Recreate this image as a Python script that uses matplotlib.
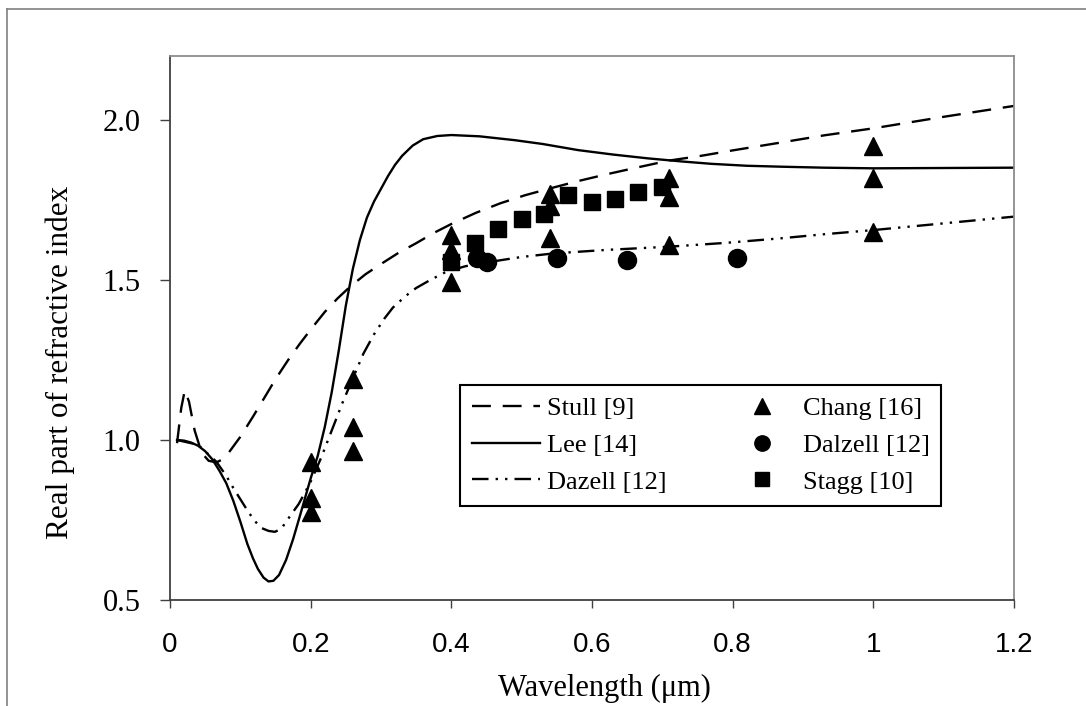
import numpy as np
import matplotlib
matplotlib.use('Agg')
import matplotlib.pyplot as plt
from matplotlib.lines import Line2D
from matplotlib.ticker import FormatStrFormatter

# Stull [9] - dashed curve
stull_x = [0.010, 0.016, 0.021, 0.027, 0.035, 0.045, 0.055, 0.066, 0.075, 0.085,
           0.100, 0.118, 0.135, 0.150, 0.168, 0.185, 0.200, 0.220, 0.238, 0.256,
           0.278, 0.300, 0.325, 0.350, 0.375, 0.400, 0.435, 0.470, 0.505, 0.540,
           0.580, 0.620, 0.665, 0.709, 0.755, 0.800, 0.867, 0.930, 1.000, 1.050,
           1.100, 1.150, 1.200]
stull_y = [0.990, 1.100, 1.155, 1.120, 1.030, 0.960, 0.935, 0.930, 0.940, 0.965,
           1.010, 1.073, 1.135, 1.190, 1.250, 1.302, 1.345, 1.400, 1.442, 1.479,
           1.518, 1.550, 1.585, 1.615, 1.647, 1.675, 1.710, 1.740, 1.765, 1.786,
           1.809, 1.830, 1.852, 1.873, 1.888, 1.905, 1.929, 1.952, 1.974, 1.992,
           2.010, 2.027, 2.044]

# Lee [14] - solid curve
lee_x = [0.010, 0.020, 0.030, 0.040, 0.050, 0.060, 0.070, 0.080, 0.090, 0.100,
         0.110, 0.118, 0.125, 0.133, 0.140, 0.147, 0.155, 0.165, 0.175, 0.185,
         0.200, 0.210, 0.220, 0.230, 0.240, 0.250, 0.260, 0.270, 0.280, 0.290,
         0.300, 0.310, 0.320, 0.330, 0.345, 0.360, 0.380, 0.400, 0.440, 0.490,
         0.530, 0.580, 0.630, 0.680, 0.730, 0.770, 0.820, 0.870, 0.930, 1.000,
         1.100, 1.200]
lee_y = [1.000, 0.998, 0.992, 0.982, 0.965, 0.940, 0.905, 0.865, 0.810, 0.745,
         0.675, 0.630, 0.597, 0.570, 0.558, 0.560, 0.578, 0.625, 0.690, 0.765,
         0.880, 0.950, 1.040, 1.150, 1.280, 1.420, 1.535, 1.625, 1.695, 1.745,
         1.785, 1.825, 1.860, 1.888, 1.920, 1.940, 1.950, 1.953, 1.949, 1.937,
         1.925, 1.906, 1.892, 1.880, 1.870, 1.863, 1.857, 1.854, 1.851, 1.849,
         1.850, 1.851]

# Dazell [12] - dash-dot-dot curve
dazell_x = [0.010, 0.040, 0.066, 0.080, 0.090, 0.100, 0.110, 0.120, 0.130, 0.140,
            0.149, 0.158, 0.170, 0.183, 0.199, 0.215, 0.230, 0.245, 0.261, 0.275,
            0.290, 0.305, 0.317, 0.335, 0.350, 0.370, 0.393, 0.420, 0.450, 0.500,
            0.545, 0.620, 0.709, 0.790, 0.867, 0.930, 1.000, 1.100, 1.200]
dazell_y = [1.000, 0.985, 0.932, 0.888, 0.850, 0.815, 0.780, 0.748, 0.725, 0.716,
            0.713, 0.722, 0.760, 0.800, 0.865, 0.945, 1.030, 1.115, 1.198, 1.270,
            1.330, 1.380, 1.414, 1.450, 1.475, 1.500, 1.526, 1.543, 1.555, 1.572,
            1.583, 1.594, 1.604, 1.616, 1.630, 1.643, 1.656, 1.677, 1.698]

# Chang [16] - triangles
chang_x = [0.20, 0.20, 0.20, 0.26, 0.26, 0.26, 0.40, 0.40, 0.40,
           0.54, 0.54, 0.54, 0.71, 0.71, 0.71, 1.00, 1.00, 1.00]
chang_y = [0.930, 0.820, 0.775, 1.190, 1.040, 0.965, 1.640, 1.595, 1.495,
           1.770, 1.730, 1.630, 1.820, 1.760, 1.610, 1.920, 1.820, 1.650]

# Dalzell [12] - circles
dalzell_x = [0.436, 0.450, 0.550, 0.650, 0.806]
dalzell_y = [1.568, 1.557, 1.568, 1.563, 1.570]

# Stagg [10] - squares
stagg_x = [0.400, 0.433, 0.467, 0.500, 0.532, 0.566, 0.600, 0.633, 0.666, 0.699]
stagg_y = [1.557, 1.617, 1.660, 1.690, 1.706, 1.766, 1.745, 1.752, 1.774, 1.790]

xticks = [0, 0.2, 0.4, 0.6, 0.8, 1.0, 1.2]
xtick_labels = ['0', '0.2', '0.4', '0.6', '0.8', '1', '1.2']
yticks = [0.5, 1.0, 1.5, 2.0]

serif = 'Liberation Serif'
sans = 'Liberation Sans'

W, H = 1086, 706
fig = plt.figure(figsize=(W / 100, H / 100), dpi=100)
ax = fig.add_axes([170 / W, 1 - 600 / H, (1014 - 170) / W, (600 - 56) / H])

lw = 1.7
ax.plot(stull_x, stull_y, color='black', lw=lw, linestyle=(0, (8, 5)), label='Stull [9]')
ax.plot(lee_x, lee_y, color='black', lw=lw, linestyle='-', label='Lee [14]')
ax.plot(dazell_x, dazell_y, color='black', lw=lw, linestyle=(0, (7, 3, 1, 3, 1, 3)),
        label='Dazell [12]')

ax.plot(chang_x, chang_y, linestyle='none', marker='^', ms=13, color='black', label='Chang [16]')
ax.plot(dalzell_x, dalzell_y, linestyle='none', marker='o', ms=13, color='black', label='Dalzell [12]')
ax.plot(stagg_x, stagg_y, linestyle='none', marker='s', ms=11.5, color='black', label='Stagg [10]')

ax.set_xlim(0, 1.2)
ax.set_ylim(0.5, 2.2)
ax.set_xticks(xticks)
ax.set_xticklabels(xtick_labels, fontfamily=sans, fontsize=20)
ax.set_yticks(yticks)
ax.yaxis.set_major_formatter(FormatStrFormatter('%.1f'))
for t in ax.get_yticklabels():
    t.set_fontfamily(serif)
    t.set_fontsize(22)

ax.tick_params(axis='x', direction='out', length=6, width=1, color='#404040', pad=17)
ax.tick_params(axis='y', direction='out', length=7, width=1, color='#404040', pad=14)

for side in ['left', 'bottom']:
    ax.spines[side].set_color('#404040')
    ax.spines[side].set_linewidth(1.3)
for side in ['top', 'right']:
    ax.spines[side].set_color('#8c8c8c')
    ax.spines[side].set_linewidth(1.3)

ax.set_xlabel('Wavelength (μm)', fontfamily=serif, fontsize=22)
ax.xaxis.set_label_coords(0.515, -0.136)
ax.xaxis.label.set_va('top')
ax.set_ylabel('Real part of refractive index', fontfamily=serif, fontsize=22.5)
ax.yaxis.set_label_coords(-0.130, 0.436)
ax.yaxis.label.set_va('center')

# legend fills column-wise: lines on the left, markers on the right
leg = ax.legend(ncol=2, loc='upper left', bbox_to_anchor=(460 / W, 1 - 385 / H),
                bbox_transform=fig.transFigure, borderaxespad=0,
                prop={'family': serif, 'size': 19}, frameon=True, fancybox=False,
                edgecolor='black', handlelength=2.6, handletextpad=0.25,
                columnspacing=2.3, labelspacing=0.5, borderpad=0.45, markerscale=0.85)
leg.get_frame().set_linewidth(1.5)
leg.get_frame().set_alpha(1)

# outer chart-area frame (cut off at right/bottom in the original)
fig.add_artist(Line2D([7 / W, 7 / W], [0, 1 - 9 / H], transform=fig.transFigure,
                      color='#808080', lw=1.2))
fig.add_artist(Line2D([7 / W, 1], [1 - 9 / H, 1 - 9 / H], transform=fig.transFigure,
                      color='#808080', lw=1.2))

fig.savefig('out.png', dpi=100)
